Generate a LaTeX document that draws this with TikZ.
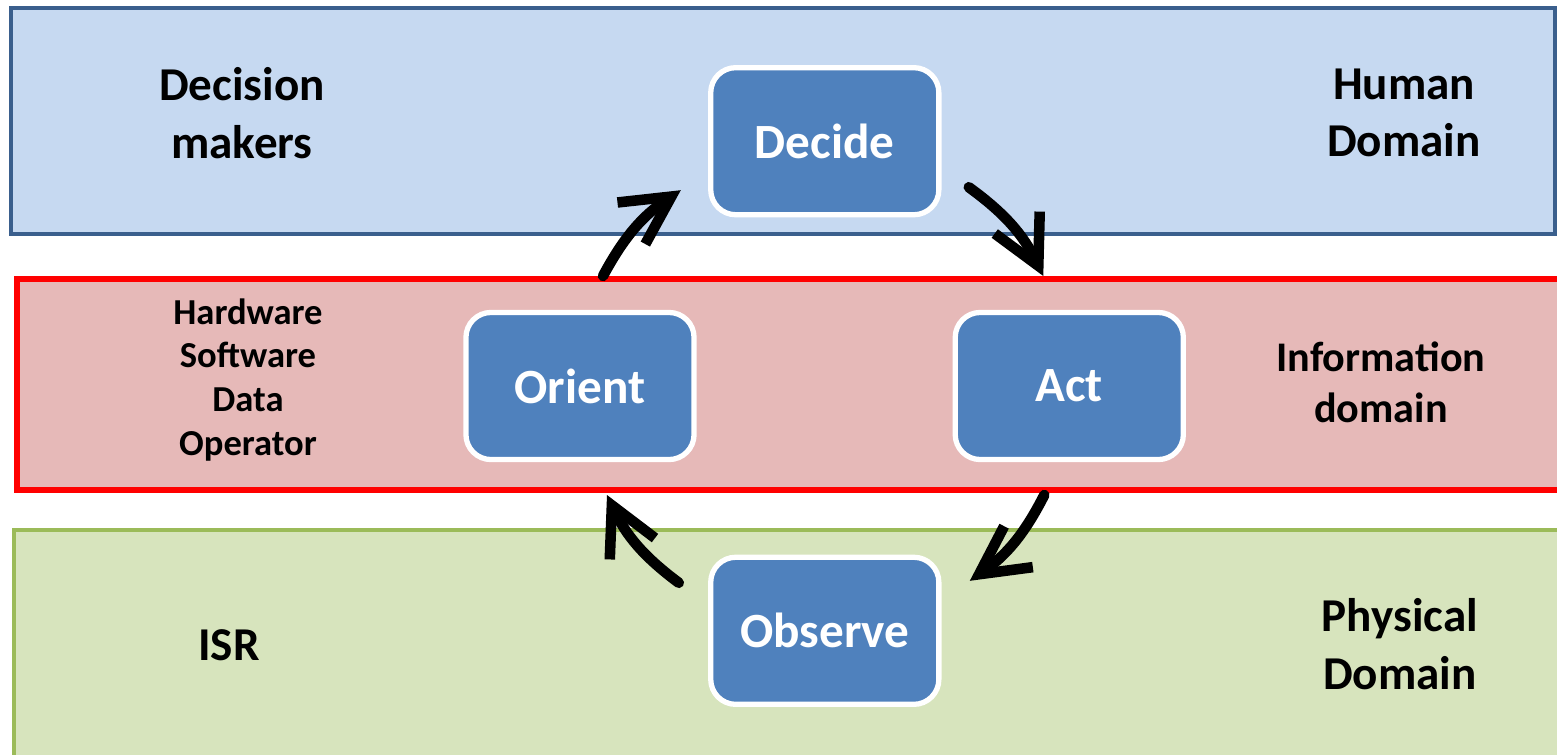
\documentclass[tikz,border=0pt]{standalone}
\usepackage{fontspec}
\setmainfont{Carlito}
\usetikzlibrary{arrows.meta}
\definecolor{humanfill}{HTML}{C6D9F1}
\definecolor{humanline}{HTML}{3A5F8D}
\definecolor{infofill}{HTML}{E6B9B8}
\definecolor{infoline}{HTML}{FF0000}
\definecolor{physfill}{HTML}{D7E4BD}
\definecolor{physline}{HTML}{9BBB59}
\definecolor{stageblue}{HTML}{4F81BD}
\begin{document}
\begin{tikzpicture}[
  x=0.01cm, y=-0.01cm,
  layerband/.style={line width=1.3pt},
  stage/.style={rectangle, rounded corners=0.25cm, draw=white, line width=1.5pt, fill=stageblue, text=white, minimum width=2.28cm, minimum height=1.47cm, font=\fontsize{14}{17}\selectfont\bfseries},
  domlabel/.style={align=center, font=\fontsize{13.4}{16.4}\selectfont\bfseries},
  loopline/.style={-{Straight Barb[length=4.8mm,width=5mm]}, line width=3pt, line cap=round, line join=round},
  node distance=3.46cm
]
\useasboundingbox (0,0) rectangle (1557,754);
\draw[layerband, draw=humanline, fill=humanfill] (11,8) rectangle (1555,234);
\draw[layerband, line width=1.7pt, draw=infoline, fill=infofill] (17,279) rectangle (1580,490);
\draw[layerband, draw=physline, fill=physfill] (14,530) rectangle (1580,780);

\node[domlabel] (makers) at (242,113) {Decision\\makers};
\node[domlabel] (human) at (1404,113) {Human\\Domain};
\node[domlabel, font=\fontsize{10.4}{12.5}\selectfont\bfseries] (layers) at (248,380) {Hardware\\Software\\Data\\Operator};
\node[domlabel, font=\fontsize{12}{14.5}\selectfont\bfseries] (info) at (1381,382) {Information\\domain};
\node[domlabel] (isr) at (229,645) {ISR};
\node[domlabel] (physical) at (1400,644) {Physical\\Domain};

\node[stage] (orient) at (580,386) {Orient};
\node[stage, right of=orient, node distance=4.89cm] (act) {Act};
\node[stage, above right of=orient] (decide) {Decide};
\node[stage, below right of=orient] (observe) {Observe};

\draw[loopline] ([shift={(23,-110)}]orient.center) to[bend left=14] ([shift={(-144,49)}]decide.center);
\draw[loopline] ([shift={(144,46)}]decide.center) to[bend left=14] ([shift={(-26,-110)}]act.center);
\draw[loopline] ([shift={(-25,109)}]act.center) to[bend left=14] ([shift={(145,-50)}]observe.center);
\draw[loopline] ([shift={(-146,-48)}]observe.center) to[bend left=14] ([shift={(27,109)}]orient.center);
\end{tikzpicture}
\end{document}
